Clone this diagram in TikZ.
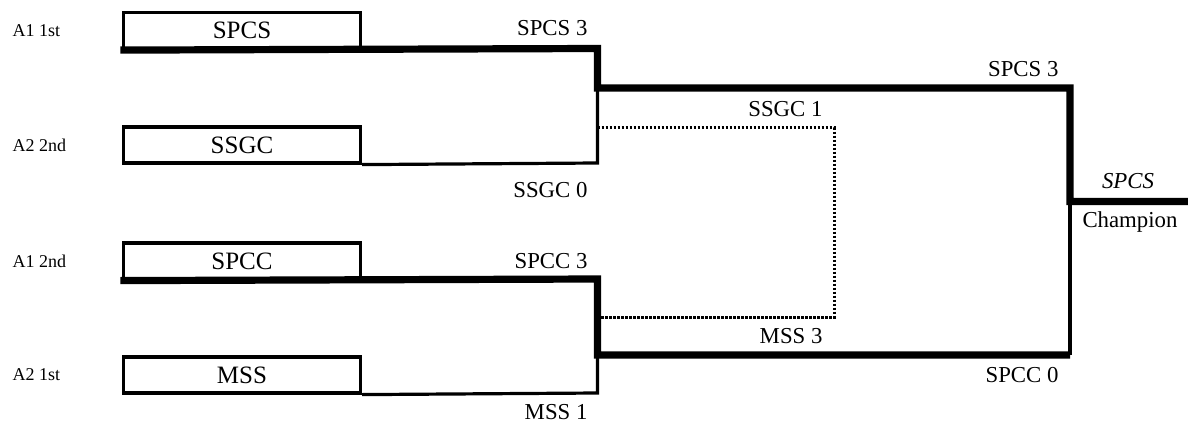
\documentclass[tikz,border=0pt]{standalone}
\usepackage{fontspec}
\setmainfont{Liberation Serif}
\usetikzlibrary{positioning}

\begin{document}
\begin{tikzpicture}[x=1pt, y=-1pt,
    team/.style={draw, line width=3.2pt, minimum width=237pt, minimum height=36pt,
      inner sep=0pt, font=\fontsize{25}{29}\selectfont},
    seed/.style={anchor=west, font=\fontsize{18}{21}\selectfont},
    score/.style={anchor=base east, font=\fontsize{22.8}{26}\selectfont},
    title/.style={anchor=base, font=\fontsize{22.8}{26}\selectfont},
    win/.style={line width=7.2pt},
    lose/.style={line width=3.2pt},
    third/.style={line width=3pt, dash pattern=on 2.5pt off 1.5pt}]
  \useasboundingbox (0,0) rectangle (1188,425);

  % teams
  \draw (242,30.5) node [team] (spcs) {SPCS};
  \draw (242,145) node [team] (ssgc) {SSGC};
  \draw (242,261) node [team] (spcc) {SPCC};
  \draw (242,375) node [team] (mss) {MSS};

  \draw (9,30.5) node [seed] (seedA) {A1 1st};
  \draw (9,145) node [seed] (seedB) {A2 2nd};
  \draw (9,261) node [seed] (seedC) {A1 2nd};
  \draw (9,375) node [seed] (seedD) {A2 1st};

  % bracket corners
  \coordinate (q1) at (597.5,48.5);
  \coordinate (q2) at (597.5,163);
  \coordinate (q3) at (597.5,279);
  \coordinate (q4) at (597.5,393);
  \coordinate (sf1) at (597.5,88);
  \coordinate (sf2) at (597.5,355);
  \coordinate (f1) at (1070,88);
  \coordinate (f2) at (1070,355);
  \coordinate (fin) at (1070,201.5);
  \coordinate (champ) at (1188,201.5);
  \coordinate (d1) at (597.5,128);
  \coordinate (d2) at (834,128);
  \coordinate (d3) at (834,317);
  \coordinate (d4) at (597.5,317);

  \draw [lose] (ssgc.south east) -- (q2) -- (sf1);
  \draw [lose] (mss.south east) -- (q4) -- (sf2);
  \draw [lose] (f2) -- (fin);
  \draw [third] (d1) -- (d2) -- (d3) -- (d4);
  \draw [win] ([xshift=-1.6pt]spcs.south west) -- (q1) -- (sf1) -- (f1) -- (fin) -- (champ);
  \draw [win] ([xshift=-1.6pt]spcc.south west) -- (q3) -- (sf2) -- (f2);

  % scores
  \draw (591,36) node [score] (sc1) {SPCS 3};
  \draw (591,197) node [score] (sc2) {SSGC 0};
  \draw (591,268) node [score] (sc3) {SPCC 3};
  \draw (591,419) node [score] (sc4) {MSS 1};
  \draw (826,117) node [score] (sc5) {SSGC 1};
  \draw (826,343) node [score] (sc6) {MSS 3};
  \draw (1062,77) node [score] (sc7) {SPCS 3};
  \draw (1062,382) node [score] (sc8) {SPCC 0};

  \draw (1128,188) node [title, font=\fontsize{22.8}{26}\selectfont\itshape] (winner) {SPCS};
  \draw (1130,227) node [title] (champion) {Champion};
\end{tikzpicture}
\end{document}
